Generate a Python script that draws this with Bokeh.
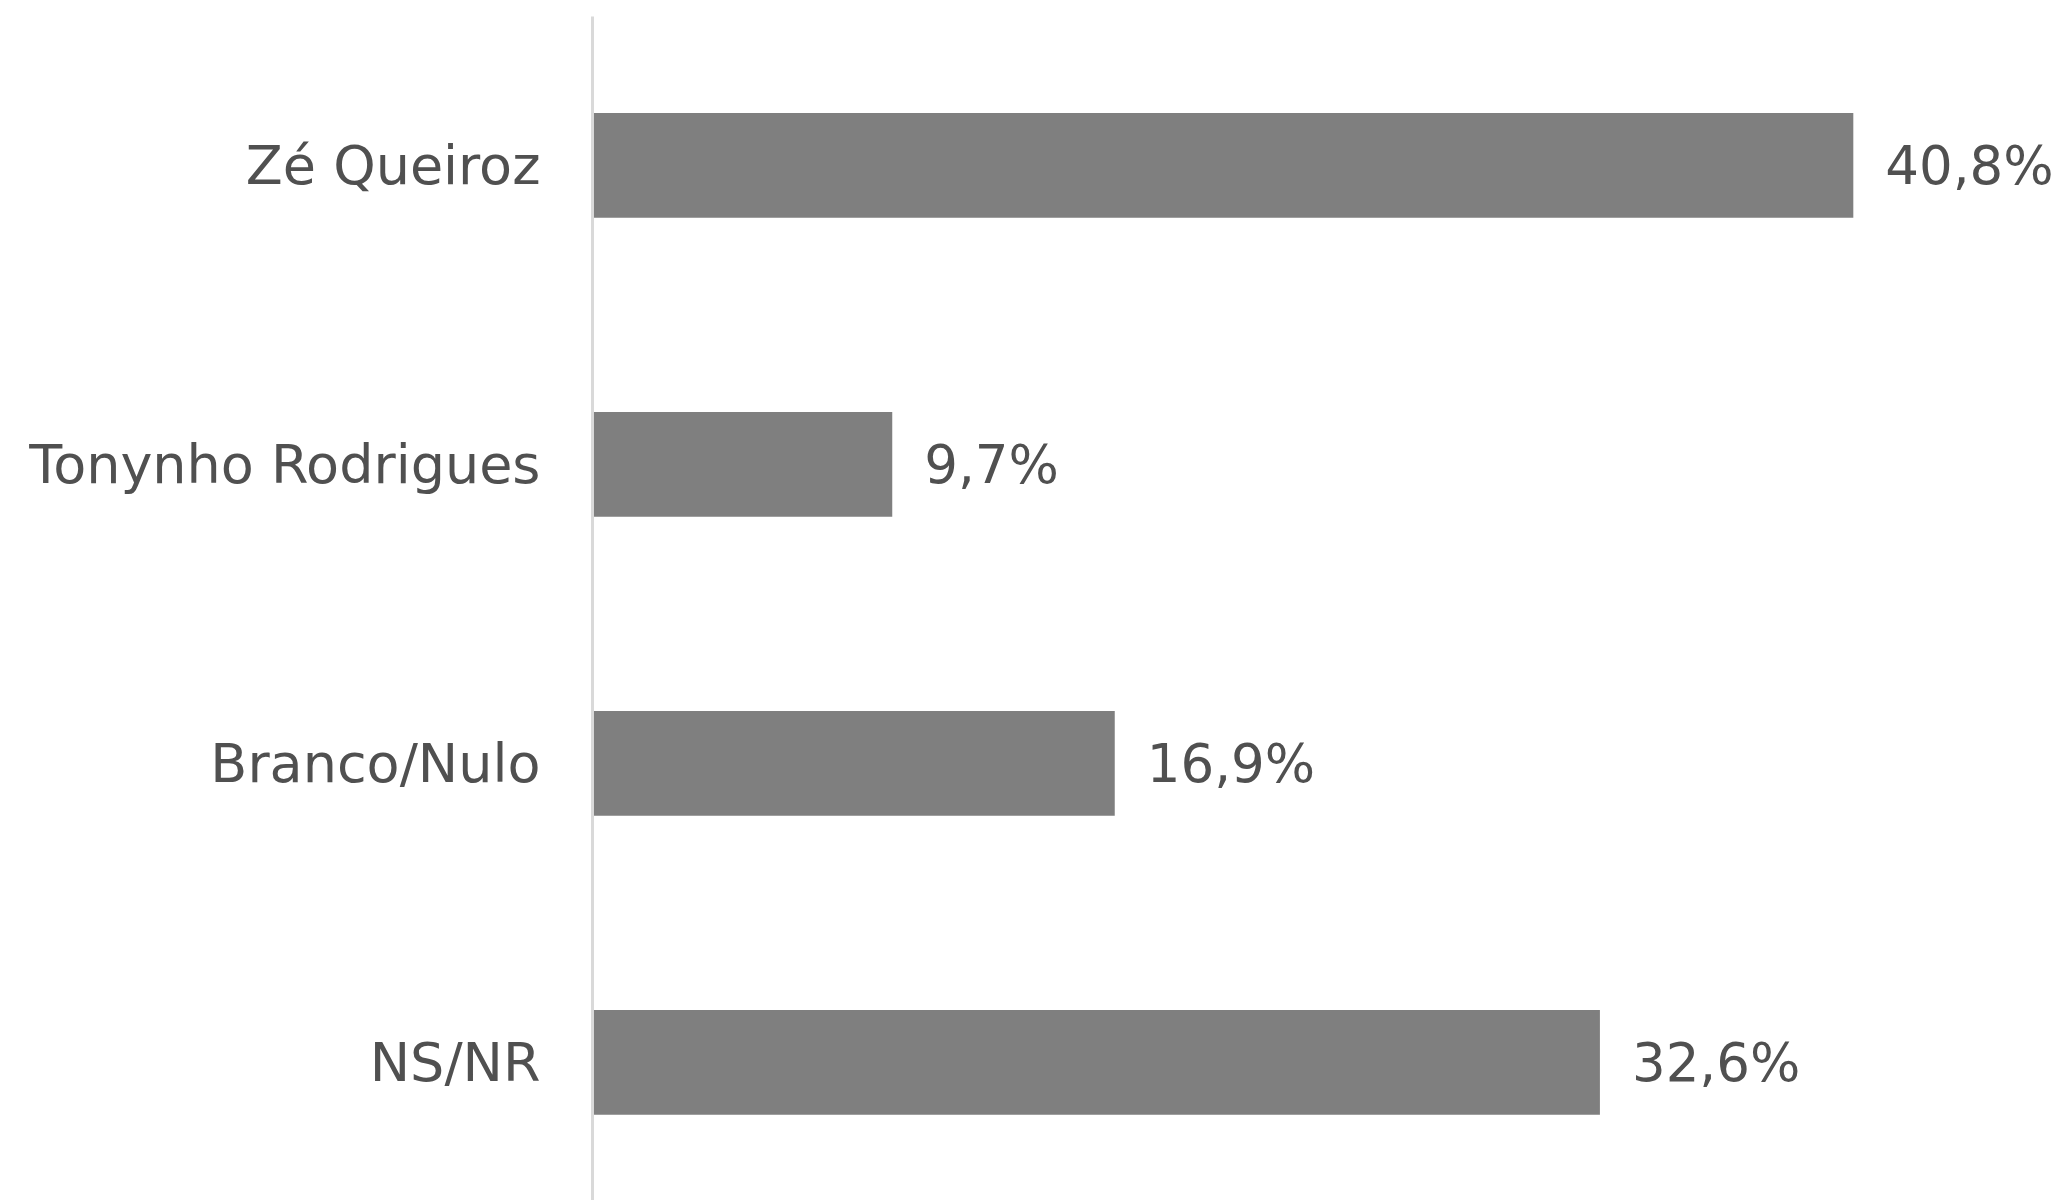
from bokeh.plotting import figure
from bokeh.models import Range1d, FixedTicker, ColumnDataSource
from bokeh.core.properties import value
from bokeh.embed import file_html
from bokeh.resources import INLINE

categories = ["Zé Queiroz", "Tonynho Rodrigues", "Branco/Nulo", "NS/NR"]
values = [40.8, 9.7, 16.9, 32.6]
value_labels = ["40,8%", "9,7%", "16,9%", "32,6%"]

FONT = "DejaVu Sans"
positions = list(range(len(categories)))
src = ColumnDataSource(dict(y=positions, v=values, lab=value_labels))

p = figure(width=2058, height=1200, output_backend="svg", toolbar_location=None,
           x_range=Range1d(0, 47.44), y_range=Range1d(3.462, -0.498),
           x_axis_location=None,
           min_border_left=592, min_border_top=16, min_border_bottom=0, min_border_right=0)
p.outline_line_color = None
p.grid.visible = False
p.background_fill_color = "white"
p.border_fill_color = "white"

p.hbar(y="y", left=0, right="v", height=0.351, source=src,
       fill_color="#7f7f7f", line_color=None)

p.text(x="v", y="y", text="lab", source=src, x_offset=32,
       text_baseline="middle", text_align="left",
       text_font=value(FONT), text_font_size="53px", text_color="#505050")

ax = p.yaxis[0]
ax.ticker = FixedTicker(ticks=positions)
ax.major_label_overrides = {i: c for i, c in zip(positions, categories)}
ax.axis_line_color = "#d9d9d9"
ax.axis_line_width = 3
ax.major_tick_line_color = None
ax.minor_tick_line_color = None
ax.major_label_text_font = FONT
ax.major_label_text_font_size = "54px"
ax.major_label_text_color = "#505050"
ax.major_label_standoff = 46

open("out.html", "w").write(file_html(p, INLINE))
